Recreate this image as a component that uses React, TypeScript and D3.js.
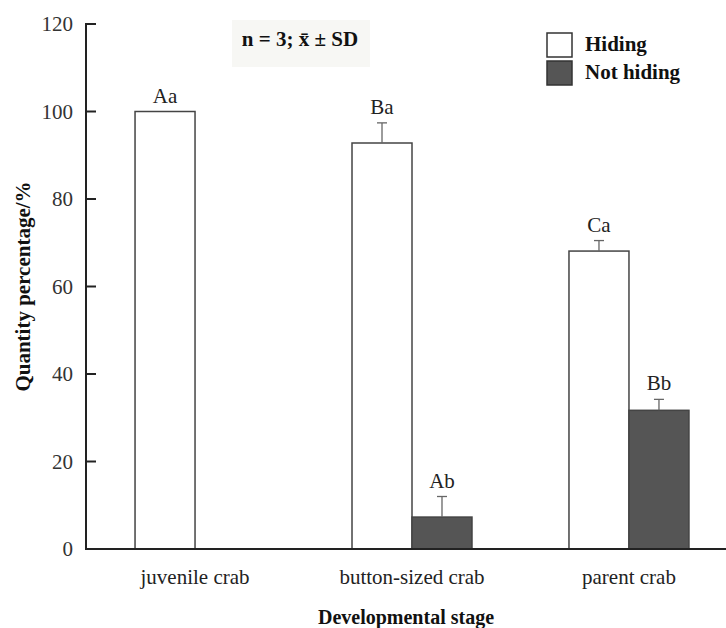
import React from "react";
import * as d3 from "d3";

const categories = ["juvenile crab", "button-sized crab", "parent crab"];
const seriesNames = ["Hiding", "Not hiding"];
const hidingValues = [100, 92.8, 68.1];
const hidingSD = [0, 4.6, 2.4];
const notHidingValues = [0, 7.3, 31.7];
const notHidingSD = [0, 4.7, 2.5];
const hidingLetters = ["Aa", "Ba", "Ca"];
const notHidingLetters = ["", "Ab", "Bb"];
const yTicks = [0, 20, 40, 60, 80, 100, 120];

const W = 726;
const H = 628;
const FONT = "'Liberation Serif', 'Times New Roman', serif";

export default function App() {
  const x0 = 86;
  const yBase = 549;
  const yTop = 24;
  const x = d3
    .scaleBand<string>()
    .domain(categories)
    .range([x0, 738])
    .paddingInner(0.447)
    .paddingOuter(0.226);
  const xs = d3.scaleBand<string>().domain(seriesNames).range([0, x.bandwidth()]);
  const y = d3.scaleLinear().domain([0, 120]).range([yBase, yTop]);

  const series = [
    { name: seriesNames[0], values: hidingValues, sd: hidingSD, letters: hidingLetters, fill: "#ffffff" },
    { name: seriesNames[1], values: notHidingValues, sd: notHidingSD, letters: notHidingLetters, fill: "#555555" },
  ];

  return (
    <svg width={W} height={H} style={{ position: "absolute", left: 0, top: 0, background: "#fff" }} fontFamily={FONT}>
      {/* annotation box */}
      <rect x={232} y={20} width={138} height={47} fill="#f7f7f4" />
      <text x={300} y={46} textAnchor="middle" fontSize={21} fontWeight="bold" fill="#111">
        n = 3; x̄ ± SD
      </text>

      {/* bars */}
      {series.map((s) =>
        categories.map((c, i) => {
          const bx = (x(c) as number) + (xs(s.name) as number);
          const bw = xs.bandwidth();
          const v = s.values[i];
          const top = y(v);
          const errTop = y(v + s.sd[i]);
          const cx = bx + bw / 2;
          return (
            <g key={s.name + c}>
              {v > 0 && (
                <rect
                  x={bx}
                  y={top}
                  width={bw}
                  height={yBase - top}
                  fill={s.fill}
                  stroke="#444"
                  strokeWidth={1.5}
                />
              )}
              {s.sd[i] > 0 && (
                <g stroke="#666" strokeWidth={1.3}>
                  <line x1={cx} x2={cx} y1={top} y2={errTop} />
                  <line x1={cx - 5} x2={cx + 5} y1={errTop} y2={errTop} />
                </g>
              )}
              {s.letters[i] && (
                <text x={cx} y={errTop - 9} textAnchor="middle" fontSize={21} fill="#222">
                  {s.letters[i]}
                </text>
              )}
            </g>
          );
        })
      )}

      {/* y axis */}
      <line x1={x0} x2={x0} y1={yTop - 1} y2={yBase + 1} stroke="#222" strokeWidth={2} />
      {yTicks.map((t) => (
        <g key={t}>
          <line x1={x0} x2={x0 + 10} y1={y(t)} y2={y(t)} stroke="#222" strokeWidth={2} />
          <text x={x0 - 13} y={y(t) + 7} textAnchor="end" fontSize={21} fill="#333">
            {t}
          </text>
        </g>
      ))}
      {/* x axis */}
      <line x1={x0 - 1} x2={W} y1={yBase} y2={yBase} stroke="#222" strokeWidth={2} />
      {categories.map((c) => (
        <text
          key={c}
          x={(x(c) as number) + x.bandwidth() / 2}
          y={584}
          textAnchor="middle"
          fontSize={21}
          fill="#222"
        >
          {c}
        </text>
      ))}

      {/* axis titles */}
      <text x={406} y={624} textAnchor="middle" fontSize={20} fontWeight="bold" fill="#111">
        Developmental stage
      </text>
      <text
        transform={`translate(30, ${(yTop + yBase) / 2}) rotate(-90)`}
        textAnchor="middle"
        fontSize={21}
        fontWeight="bold"
        fill="#111"
      >
        Quantity percentage/%
      </text>

      {/* legend */}
      {series.map((s, i) => (
        <g key={s.name} transform={`translate(547, ${33 + i * 28})`}>
          <rect x={0} y={0} width={25} height={24} fill={s.fill} stroke="#333" strokeWidth={1.5} />
          <text x={38} y={18} fontSize={21} fontWeight="bold" fill="#111">
            {s.name}
          </text>
        </g>
      ))}
    </svg>
  );
}
